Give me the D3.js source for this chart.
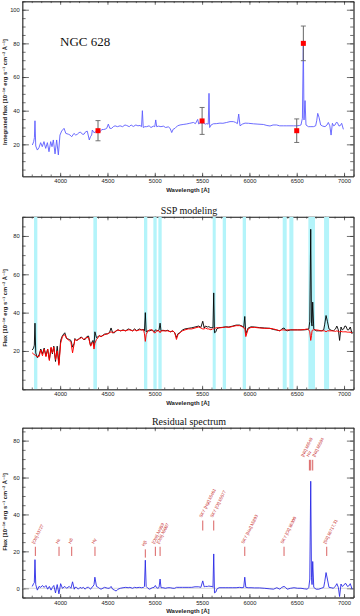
<!DOCTYPE html>
<html>
<head>
<meta charset="utf-8">
<script src="https://cdn.jsdelivr.net/npm/d3@7"></script>
<style>
  body { margin: 0; background: #fff; }
  svg { display: block; }
  text { font-family: "Liberation Sans", "DejaVu Sans", sans-serif; }
</style>
</head>
<body>
<svg id="chart" width="360" height="616"></svg>
<script>
// ---- data ----
const xTicks = [4000, 4500, 5000, 5500, 6000, 6500, 7000];

// integrated spectrum (top panel)
const topWave = [3706,3720,3728,3734,3742,3759,3776,3794,3811,3829,3847,3865,3882,3900,3914,3928,3946,3963,3981,3998,
  4016,4041,4060,4087,4105,4122,4146,4165,4182,4200,4217,4235,4252,4270,4287,4308,4320,4333,4340,4358,
  4375,4386,4405,4421,4440,4456,4475,4492,4509,4525,4544,4562,4580,4605,4633,4660,4685,4703,4730,4750,
  4773,4800,4822,4844,4860,4869,4878,4895,4914,4940,4960,4985,5000,5010,5020,5040,5065,5091,5115,5143,
  5162,5179,5195,5214,5240,5267,5300,5337,5370,5408,5430,5453,5465,5478,5500,5513,5535,5549,5565,5573,
  5580,5595,5619,5650,5689,5720,5760,5795,5830,5855,5873,5887,5901,5925,5954,5990,6042,6090,6147,6185,
  6218,6250,6288,6320,6359,6395,6429,6465,6500,6530,6545,6560,6570,6577,6588,6598,6623,6650,6676,6700,
  6711,6722,6736,6753,6775,6799,6820,6834,6850,6863,6877,6890,6905,6918,6930,6945,6958,6975,6993];
const topFlux = [19.6,21.5,24,34,19,16.6,18,21,18.6,21.6,17.6,21,15.6,21.6,18.6,22.6,14.3,22.6,13.7,25.5,
  27.9,29.5,26.5,26,25.5,24.5,26.5,25.5,26,27,27.2,26,26,27.5,27.8,22.6,24.5,25.5,28.5,26.9,
  27.5,28,27.5,27.4,28.8,28.8,29,29.5,32,29.5,29.5,30.5,31,30.5,31,30.5,31.5,31.2,30.5,31.5,
  30.6,31.5,31,31.2,30.5,40,30,30.5,30.5,31,30,30.8,30.5,34.5,30.5,30.8,30.5,30.8,30,30.4,
  29.5,27,29,29.5,31,31.5,31.8,32.1,32.5,33,32.3,34.8,32,33,32.5,32.7,32,32.3,32,50.3,
  30,31.5,32.2,32.3,32.6,32.5,33,33.5,33.5,33,32.3,38,31,32,32.6,32.5,32.2,32,31.8,31.2,
  30.9,31.5,31.5,31,31,31,31,31,31,31.2,31.5,35.5,80,34.5,46,31.5,30.5,30.5,30.5,31,
  34,38.4,36,31.5,30.8,30.5,31.5,33,31,25.5,32.5,31,31.5,33,32.9,31,31,32.5,28.9];

// photometric points with error bars
const photWave = [4400, 5500, 6500, 6570];
const photFlux = [28.1, 33.9, 28.1, 80];
const photErr  = [6, 8, 7, 10.3];

// SSP fit and residual (middle / bottom panels)
const sspWave = [3705,3719,3727,3734,3742,3759,3777,3795,3813,3831,3850,3868,3886,3904,3918,3933,3951,3969,3987,4005,
  4024,4049,4068,4096,4114,4131,4149,4156,4174,4192,4210,4228,4246,4264,4282,4300,4322,4334,4347,4358,
  4367,4384,4402,4413,4432,4469,4503,4521,4538,4555,4574,4592,4611,4637,4665,4693,4719,4737,4765,4786,
  4809,4837,4860,4882,4891,4900,4909,4927,4946,4973,4993,5006,5019,5034,5045,5056,5066,5086,5112,5138,
  5163,5192,5211,5229,5245,5265,5292,5319,5353,5391,5425,5464,5487,5507,5522,5535,5557,5571,5594,5608,
  5615,5623,5631,5646,5655,5679,5711,5751,5783,5824,5860,5896,5922,5940,5951,5962,5987,6017,6054,6107,
  6157,6216,6255,6289,6322,6342,6366,6381,6399,6436,6472,6509,6545,6581,6612,6628,6638,6648,6656,6662,
  6669,6680,6705,6733,6760,6785,6796,6810,6824,6841,6864,6888,6910,6924,6940,6953,6968,6981,6996,7009,
  7021,7036,7049,7066,7085];
const obsFlux = [20.5,21.5,23,34.5,19,16.5,18,21,18.5,21.5,17.5,21,15.5,21.5,18.5,22.5,14.5,22.5,13.5,25.5,
  28,29.5,26.5,26,25.5,22,24,26.5,25.5,26,27,27.2,26,26,27.5,27.8,22.6,24.5,25.5,23,
  30,26.9,27.5,28,27.5,28.8,29,29.5,32,29.5,29.5,30.5,31,30.5,31,30.5,31.5,31.2,30.5,31.5,
  30.6,31.5,31,31.2,30.5,40,30,30.5,30.5,31,30,31,30.8,30.5,31,34.5,30.5,30.8,30.5,30.8,
  30,30.4,29.5,27,29,29.5,31,31.5,31.8,32.1,32.5,33,32.3,35.5,32,33,32.5,32.7,32,32.3,
  32,50.3,29.5,30,31.5,32.2,32.3,32.6,32.5,33,33.5,33.5,33,32.3,38,29,32,32.6,32.5,32.2,
  32,31.8,31.2,30.9,30.5,31.5,32,31,30.5,31,31,31,31,31,31.2,31.5,35.5,83.5,34.5,33,
  45.5,31.5,30.5,30.5,30.5,31,34,38.5,35.5,31.5,30.8,30.5,31.5,33,31,25.5,32.5,31,31.5,33,
  32.9,31,31,32.5,28.9];
const modelFlux = [19,18.5,18,18,17.5,17,17,20.5,17.5,21,17,21,15,22,19,22,15.5,20,12.5,24,
  27.5,28.5,26.5,25.5,24.5,19,24,26,25.5,26,26.5,27,26,26.5,27,27,22.5,24,24.5,21,
  24,26,27,28,27.5,28.5,29,29.5,30,29.5,30,30.5,31,30.5,30.8,30.5,31,31,30.5,31,
  30.5,31,31,31,29,25,28.5,30.5,31,31,29.5,29.5,30.5,30.5,30.5,29.5,30.5,30.5,30.5,30.5,
  30,30.5,29.5,26,28.5,29.5,30.5,31,31.5,31.5,32,32.5,32,31.5,31.5,32,31.5,31.5,31,31.5,
  31.5,31.5,31.8,32,32.2,32,32.2,32.5,32.3,32.8,33.2,33.2,32.8,32,32,27.5,31.5,32.3,32.3,32,
  31.8,31.8,31.5,31,30.5,31,31,30.8,31,31,31,31,31,31.2,31.5,31,30,25.5,28,30.5,
  31,31,31,30.8,30.5,30.5,30.5,30,30.5,30.5,30.5,30.5,30.2,30.5,30.2,30,30.2,30,30,30,
  30,29.8,29.8,29.8,29.5];
const residFlux = [1,2.5,3,15.5,2,-1,1,0.5,1.5,0.5,1.5,-0.5,1,-1,0.5,1.5,-2.5,2,-3,2.5,
  0,1,0,1,0,3.5,-0.5,0.5,0.5,-0.5,0.5,0,0.5,-0.5,0.5,0.5,-0.5,0.5,1,2,
  6,1,0.5,0,-0.5,0.5,0,0,1,-0.5,-1,-1.5,-0.5,0,0.3,0.5,0.3,0.5,0,0.5,
  0.3,0.5,0.3,0.5,1,15.2,1,0,-0.5,0.3,0.5,1.5,0.3,0,0.5,5,0.3,0.3,0,0.3,
  0.3,0,0,0.5,0.5,0.5,0.5,0.5,0.5,0.5,0.8,0.8,0.5,4,0.8,1,1,1.2,1,1,
  0.5,18.6,-2.5,-2,-0.5,0.3,0.3,0.3,0.3,0.3,0.3,0.5,0.3,0.5,6,0.5,0.3,0.3,0.2,0.2,
  0,-0.3,-0.5,0.3,-0.5,0.5,1,0.5,-0.5,0,0.3,0,0,-0.3,-0.5,0.5,5,58,6,2,
  14.5,0.5,-0.5,-0.5,0,0.5,3.5,8.5,5,0.5,0.3,0,1.2,2.5,0.5,-4.5,2.3,1,1.5,2.5,
  2.5,1,1.2,2.5,-0.5];

// masked regions in the SSP fit
const bandStart = [3724, 4351, 4886, 4985, 5038, 5612, 5718, 5929, 6352, 6422, 6623, 6789];
const bandEnd   = [3759, 4389, 4921, 5020, 5073, 5644, 5753, 5964, 6394, 6465, 6693, 6842];

// identified lines in the residual
const lineNames = ["[OII] λ3727", "Hε", "Hδ", "Hγ", "Hβ", "[OIII] λ4959", "[OIII] λ5007",
  "SKY [HgI] λ5461", "SKY [OI] λ5577", "SKY [NaI] λ5893", "SKY [OI] λ6300",
  "[NII] λ6548", "Hα", "[NII] λ6584", "[SII] λ6717,31"];
const lineWave = [3738, 3988, 4122, 4368, 4900, 5006, 5056, 5507, 5623, 5951, 6366, 6634, 6648, 6669, 6817];
const lineLow  = [17.5, 17.5, 17.5, 17.5, 16.6, 17.5, 17.5, 31.3, 31.3, 17.5, 17.5, 63.8, 63.8, 63.8, 17.5];
const lineHigh = [22.5, 22.5, 22.5, 22.5, 21.1, 22.5, 22.5, 36.7, 36.7, 22.5, 22.5, 69.6, 69.6, 69.6, 22.5];

// ---- drawing ----
const svg = d3.select("#chart");
const X0 = 22.3, X1 = 353.5;
const x = d3.scaleLinear().domain([3600, 7100]).range([X0, X1]);
const xMinor = d3.range(3600, 7101, 100);
const yTitle = "[10⁻¹⁶ erg s⁻¹ cm⁻² Å⁻¹]";
const serif = "'Liberation Serif', 'DejaVu Serif', serif";

function makePanel(top, bottom, yDomain, id) {
  const y = d3.scaleLinear().domain(yDomain).range([bottom, top]);
  svg.append("clipPath").attr("id", id)
    .append("rect").attr("x", X0).attr("y", top).attr("width", X1 - X0).attr("height", bottom - top);
  const g = svg.append("g");
  const data = svg.append("g").attr("clip-path", `url(#${id})`);
  return { y, top, bottom, g, data };
}

function drawAxes(p, yMajor) {
  const yMinor = d3.range(Math.ceil(p.y.domain()[0] / 5) * 5, p.y.domain()[1] + 0.1, 5);
  const ax = p.g.append("g").attr("class", "axes");
  const fmt = d3.format("d");
  ax.append("g").attr("transform", `translate(0,${p.bottom})`)
    .call(d3.axisBottom(x).tickValues(xTicks).tickFormat(fmt).tickSizeInner(-3.5).tickSizeOuter(0).tickPadding(3));
  ax.append("g").attr("transform", `translate(0,${p.bottom})`)
    .call(d3.axisBottom(x).tickValues(xMinor).tickFormat("").tickSizeInner(-1.8).tickSizeOuter(0));
  ax.append("g").attr("transform", `translate(0,${p.top})`)
    .call(d3.axisTop(x).tickValues(xTicks).tickFormat("").tickSizeInner(-3.5).tickSizeOuter(0));
  ax.append("g").attr("transform", `translate(0,${p.top})`)
    .call(d3.axisTop(x).tickValues(xMinor).tickFormat("").tickSizeInner(-1.8).tickSizeOuter(0));
  ax.append("g").attr("transform", `translate(${X0},0)`)
    .call(d3.axisLeft(p.y).tickValues(yMajor).tickFormat(fmt).tickSizeInner(-6.6).tickSizeOuter(0).tickPadding(2.5));
  ax.append("g").attr("transform", `translate(${X0},0)`)
    .call(d3.axisLeft(p.y).tickValues(yMinor).tickFormat("").tickSizeInner(-3.3).tickSizeOuter(0));
  ax.append("g").attr("transform", `translate(${X1},0)`)
    .call(d3.axisRight(p.y).tickValues(yMajor).tickFormat("").tickSizeInner(-6.6).tickSizeOuter(0));
  ax.append("g").attr("transform", `translate(${X1},0)`)
    .call(d3.axisRight(p.y).tickValues(yMinor).tickFormat("").tickSizeInner(-3.3).tickSizeOuter(0));
  ax.selectAll("path.domain").attr("stroke", "#333").attr("stroke-width", 0.8);
  ax.selectAll(".tick line").attr("stroke", "#333").attr("stroke-width", 0.7);
  ax.selectAll(".tick text").attr("font-size", 5.8).attr("fill", "#222");

  p.g.append("text")
    .attr("x", (X0 + X1) / 2).attr("y", p.bottom + 15.5)
    .attr("text-anchor", "middle").attr("font-size", 6).attr("font-weight", "bold").attr("fill", "#222")
    .text("Wavelength [Å]");
}

function yLabel(p, txt, cy) {
  p.g.append("text")
    .attr("transform", `translate(7,${cy}) rotate(-90)`)
    .attr("text-anchor", "middle").attr("font-size", 5.8).attr("font-weight", "bold").attr("fill", "#222")
    .text(txt);
}

const lineGen = (y, ws, fs) => d3.line().x((d, i) => x(ws[i])).y(d => y(d))(fs);

// ---- panel 1: integrated spectrum ----
const p1 = makePanel(1.3, 176.3, [1, 105], "c1");
p1.data.append("path")
  .attr("d", lineGen(p1.y, topWave, topFlux))
  .attr("fill", "none").attr("stroke", "#5c5cff").attr("stroke-width", 0.9);

const phot = p1.data.append("g");
photWave.forEach((w, i) => {
  const cx = x(w);
  const lo = p1.y(photFlux[i] - photErr[i]), hi = p1.y(photFlux[i] + photErr[i]);
  phot.append("line").attr("x1", cx).attr("x2", cx).attr("y1", lo).attr("y2", hi)
    .attr("stroke", "#666").attr("stroke-width", 1);
  [lo, hi].forEach(v => phot.append("line").attr("x1", cx - 2.5).attr("x2", cx + 2.5).attr("y1", v).attr("y2", v)
    .attr("stroke", "#666").attr("stroke-width", 0.9));
  phot.append("rect").attr("x", cx - 2.5).attr("y", p1.y(photFlux[i]) - 2.5)
    .attr("width", 5).attr("height", 5).attr("fill", "#ff0000");
});
drawAxes(p1, [20, 40, 60, 80, 100]);
yLabel(p1, "Integrated flux " + yTitle, 92);
p1.g.append("text").attr("x", 60).attr("y", 45.5)
  .style("font-family", serif).attr("font-size", 13).attr("fill", "#111")
  .text("NGC 628");

// ---- panel 2: SSP modeling ----
const p2 = makePanel(216.8, 389.3, [0, 90], "c2");
p2.data.selectAll("rect.band").data(bandStart).join("rect")
  .attr("class", "band")
  .attr("x", (d, i) => x(d)).attr("width", (d, i) => x(bandEnd[i]) - x(d))
  .attr("y", p2.top).attr("height", p2.bottom - p2.top)
  .attr("fill", "#b4f4fa");
p2.data.append("path")
  .attr("d", lineGen(p2.y, sspWave, obsFlux))
  .attr("fill", "none").attr("stroke", "#000").attr("stroke-width", 0.9);
p2.data.append("path")
  .attr("d", lineGen(p2.y, sspWave, modelFlux))
  .attr("fill", "none").attr("stroke", "#ff0000").attr("stroke-width", 1);
drawAxes(p2, [20, 40, 60, 80]);
yLabel(p2, "Flux " + yTitle, 308);
p2.g.append("text").attr("x", 189).attr("y", 213.5).attr("text-anchor", "middle")
  .style("font-family", serif).attr("font-size", 10).attr("fill", "#111")
  .text("SSP modeling");

// ---- panel 3: residual spectrum ----
const p3 = makePanel(427.7, 597.5, [-5, 87], "c3");
p3.data.append("line")
  .attr("x1", X0).attr("x2", X1).attr("y1", p3.y(0)).attr("y2", p3.y(0))
  .attr("stroke", "#bbb").attr("stroke-width", 0.6);
p3.data.append("path")
  .attr("d", lineGen(p3.y, sspWave, residFlux))
  .attr("fill", "none").attr("stroke", "#2a2ae6").attr("stroke-width", 0.9);

// the three Halpha-complex labels are fanned out so they do not overlap
const labelShift = lineNames.map((d, i) => (i === 11 ? -5 : i === 12 ? -1 : i === 13 ? 3 : 0));
const marks = p3.g.append("g");
lineWave.forEach((w, i) => {
  const cx = x(w);
  marks.append("line").attr("x1", cx).attr("x2", cx)
    .attr("y1", p3.y(lineLow[i])).attr("y2", p3.y(lineHigh[i]))
    .attr("stroke", "#d03a3a").attr("stroke-width", 0.8);
  marks.append("text")
    .attr("transform", `translate(${cx - 1 + labelShift[i]},${p3.y(lineHigh[i] + 1.5)}) rotate(-63)`)
    .attr("font-size", 4.3).attr("fill", "#c62828")
    .text(lineNames[i]);
});
drawAxes(p3, [0, 20, 40, 60, 80]);
yLabel(p3, "Flux " + yTitle, 512);
p3.g.append("text").attr("x", 189).attr("y", 424.5).attr("text-anchor", "middle")
  .style("font-family", serif).attr("font-size", 10).attr("fill", "#111")
  .text("Residual spectrum");
</script>
</body>
</html>
